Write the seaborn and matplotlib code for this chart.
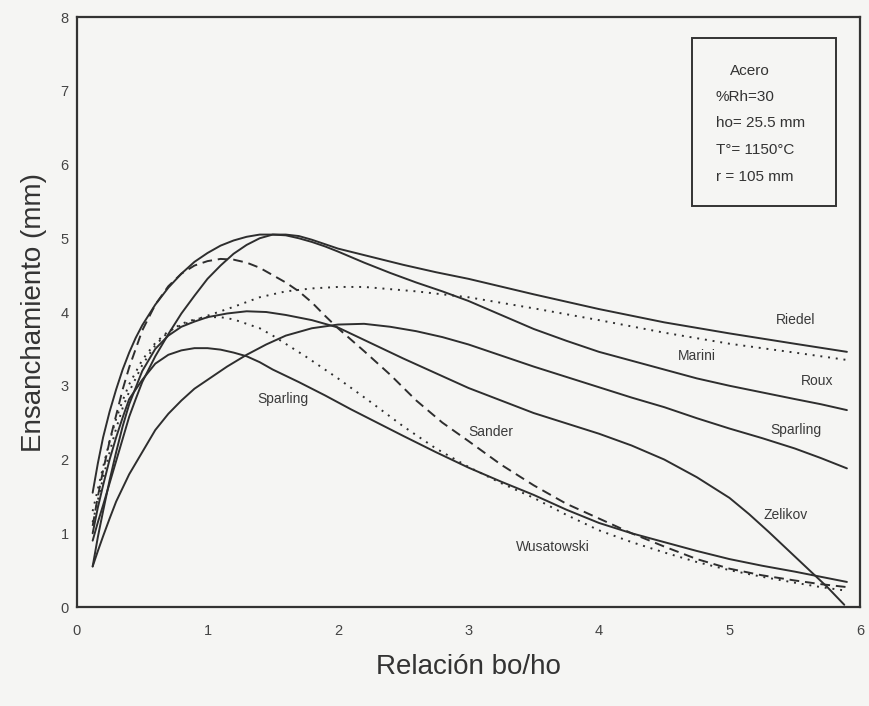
import matplotlib
matplotlib.use("Agg")
import matplotlib.pyplot as plt
import seaborn as sns
import pandas as pd
from matplotlib.patches import Rectangle
from matplotlib.ticker import MultipleLocator

sns.set_theme(style="white")
plt.rcParams['font.family'] = ['Liberation Sans', 'DejaVu Sans']

# ---- data ----
roux_x = [0.12, 0.16, 0.2, 0.25, 0.3, 0.35, 0.4, 0.45, 0.5, 0.6, 0.7, 0.8, 0.9, 1.0, 1.1, 1.2, 1.3, 1.4, 1.5,
          1.6, 1.7, 1.8, 1.9, 2.0, 2.2, 2.4, 2.6, 2.8, 3.0, 3.25, 3.5, 3.75, 4.0, 4.25, 4.5, 4.75, 5.0, 5.25,
          5.5, 5.7, 5.9]
roux_y = [1.55, 1.95, 2.3, 2.65, 2.95, 3.22, 3.45, 3.65, 3.82, 4.1, 4.33, 4.52, 4.68, 4.8, 4.9, 4.97, 5.02,
          5.05, 5.05, 5.04, 5.0, 4.95, 4.89, 4.82, 4.67, 4.53, 4.4, 4.28, 4.15, 3.96, 3.77, 3.61, 3.46, 3.34,
          3.22, 3.1, 3.0, 2.91, 2.82, 2.75, 2.67]

riedel_x = [0.12, 0.16, 0.2, 0.25, 0.3, 0.35, 0.4, 0.45, 0.5, 0.6, 0.7, 0.8, 0.9, 1.0, 1.1, 1.2, 1.3, 1.4, 1.5,
            1.6, 1.7, 1.8, 1.9, 2.0, 2.25, 2.5, 2.75, 3.0, 3.5, 4.0, 4.5, 5.0, 5.5, 5.9]
riedel_y = [0.9, 1.15, 1.38, 1.68, 1.98, 2.28, 2.58, 2.82, 3.05, 3.4, 3.7, 3.98, 4.22, 4.45, 4.63, 4.79, 4.91,
            5.0, 5.05, 5.05, 5.03, 4.98, 4.92, 4.86, 4.75, 4.64, 4.54, 4.45, 4.24, 4.04, 3.86, 3.71, 3.57, 3.46]

marini_x = [0.12, 0.16, 0.2, 0.25, 0.3, 0.35, 0.4, 0.5, 0.6, 0.7, 0.8, 0.9, 1.0, 1.2, 1.4, 1.6, 1.8, 2.0, 2.2,
            2.4, 2.6, 2.8, 3.0, 3.5, 4.0, 4.5, 5.0, 5.5, 5.9]
marini_y = [1.3, 1.6, 1.9, 2.25, 2.55, 2.8, 3.02, 3.35, 3.58, 3.74, 3.82, 3.89, 3.95, 4.07, 4.2, 4.28, 4.32,
            4.34, 4.34, 4.31, 4.28, 4.24, 4.2, 4.05, 3.89, 3.72, 3.57, 3.45, 3.35]

dotlow_x = [0.12, 0.16, 0.2, 0.25, 0.3, 0.35, 0.4, 0.5, 0.6, 0.7, 0.8, 0.9, 1.0, 1.1, 1.2, 1.3, 1.4, 1.5, 1.75,
            2.0, 2.25, 2.5, 2.75, 3.0, 3.25, 3.5, 3.75, 4.0, 4.25, 4.5, 4.75, 5.0, 5.25, 5.5, 5.7, 5.9]
dotlow_y = [1.15, 1.45, 1.75, 2.1, 2.42, 2.7, 2.92, 3.28, 3.55, 3.73, 3.84, 3.9, 3.93, 3.93, 3.9, 3.84, 3.78,
            3.68, 3.4, 3.1, 2.78, 2.45, 2.15, 1.9, 1.68, 1.48, 1.25, 1.04, 0.88, 0.74, 0.61, 0.5, 0.41, 0.33,
            0.27, 0.22]

sander_x = [0.12, 0.16, 0.2, 0.25, 0.3, 0.35, 0.4, 0.5, 0.6, 0.7, 0.8, 0.9, 1.0, 1.1, 1.2, 1.3, 1.4, 1.5, 1.6,
            1.7, 1.8, 1.9, 2.0, 2.2, 2.4, 2.6, 2.8, 3.0, 3.25, 3.5, 3.75, 4.0, 4.25, 4.5, 4.75, 5.0, 5.25, 5.5,
            5.7, 5.9]
sander_y = [1.1, 1.5, 1.85, 2.25, 2.6, 2.95, 3.25, 3.75, 4.1, 4.35, 4.52, 4.63, 4.69, 4.72, 4.71, 4.67, 4.6,
            4.5, 4.4, 4.28, 4.13, 3.95, 3.78, 3.47, 3.15, 2.8, 2.5, 2.25, 1.93, 1.65, 1.4, 1.2, 1.0, 0.82, 0.65,
            0.52, 0.43, 0.36, 0.31, 0.27]

zelikov_x = [0.12, 0.16, 0.2, 0.25, 0.3, 0.35, 0.4, 0.5, 0.6, 0.7, 0.8, 0.9, 1.0, 1.15, 1.3, 1.45, 1.6, 1.8,
             2.0, 2.25, 2.5, 2.75, 3.0, 3.25, 3.5, 3.75, 4.0, 4.25, 4.5, 4.75, 5.0, 5.15, 5.3, 5.45, 5.6, 5.75,
             5.88]
zelikov_y = [0.55, 0.95, 1.3, 1.72, 2.1, 2.45, 2.75, 3.2, 3.5, 3.68, 3.8, 3.87, 3.93, 3.98, 4.01, 4.0, 3.96,
             3.89, 3.79, 3.58, 3.37, 3.17, 2.97, 2.8, 2.63, 2.49, 2.35, 2.19, 2.0, 1.76, 1.48, 1.26, 1.02, 0.77,
             0.52, 0.27, 0.03]

wusa_x = [0.12, 0.16, 0.2, 0.25, 0.3, 0.35, 0.4, 0.5, 0.6, 0.7, 0.8, 0.9, 1.0, 1.1, 1.2, 1.3, 1.4, 1.5, 1.7,
          1.9, 2.1, 2.3, 2.5, 2.75, 3.0, 3.25, 3.5, 3.75, 4.0, 4.25, 4.5, 4.75, 5.0, 5.25, 5.5, 5.7, 5.9]
wusa_y = [1.0, 1.35, 1.65, 2.0, 2.3, 2.57, 2.82, 3.08, 3.3, 3.42, 3.48, 3.51, 3.51, 3.49, 3.45, 3.4, 3.32,
          3.22, 3.05, 2.87, 2.68, 2.5, 2.32, 2.1, 1.89, 1.7, 1.52, 1.32, 1.14, 1.0, 0.88, 0.76, 0.65, 0.56,
          0.48, 0.41, 0.34]

sparling_x = [0.12, 0.16, 0.2, 0.25, 0.3, 0.4, 0.5, 0.6, 0.7, 0.8, 0.9, 1.0, 1.15, 1.3, 1.45, 1.6, 1.8, 2.0,
              2.2, 2.4, 2.6, 2.8, 3.0, 3.25, 3.5, 3.75, 4.0, 4.25, 4.5, 4.75, 5.0, 5.25, 5.5, 5.7, 5.9]
sparling_y = [0.55, 0.76, 0.96, 1.2, 1.43, 1.8, 2.1, 2.4, 2.62, 2.8, 2.96, 3.08, 3.26, 3.42, 3.56, 3.68, 3.78,
              3.83, 3.84, 3.8, 3.74, 3.66, 3.56, 3.41, 3.26, 3.12, 2.98, 2.84, 2.71, 2.56, 2.42, 2.29, 2.15,
              2.02, 1.88]

curve_labels = ["Riedel", "Marini", "Roux", "Sparling", "Zelikov", "Sander", "Wusatowski", "Sparling"]
label_x = [5.51, 4.75, 5.67, 5.51, 5.43, 3.17, 3.645, 1.58]
label_y = [3.89, 3.41, 3.06, 2.40, 1.25, 2.37, 0.82, 2.82]

info_lines = ["Acero", "%Rh=30", "ho= 25.5 mm", "T°= 1150°C", "r = 105 mm"]

# ---- figure ----
bg = "#f5f5f3"
ink = "#2e2e2e"
fig = plt.figure(figsize=(8.69, 7.06), dpi=100, facecolor=bg)
ax = fig.add_axes([0.0886, 0.1402, 0.9010, 0.8357])
ax.set_facecolor(bg)

series = [
    (roux_x, roux_y, "-"),
    (riedel_x, riedel_y, "-"),
    (marini_x, marini_y, (0, (1, 3))),
    (dotlow_x, dotlow_y, (0, (1, 3))),
    (sander_x, sander_y, (0, (5, 3))),
    (zelikov_x, zelikov_y, "-"),
    (wusa_x, wusa_y, "-"),
    (sparling_x, sparling_y, "-"),
]
for xs, ys, ls in series:
    df = pd.DataFrame({"x": xs, "y": ys})
    sns.lineplot(data=df, x="x", y="y", ax=ax, color=ink, linewidth=1.4,
                 linestyle=ls, sort=False, estimator=None)

for t, lx, ly in zip(curve_labels, label_x, label_y):
    ax.text(lx, ly, t, fontsize=10, color="#3a3a3a", ha="center", va="center")

ax.set_xlim(0, 6)
ax.set_ylim(0, 8)
ax.xaxis.set_major_locator(MultipleLocator(1))
ax.xaxis.set_minor_locator(MultipleLocator(0.5))
ax.yaxis.set_major_locator(MultipleLocator(1))
ax.yaxis.set_minor_locator(MultipleLocator(0.5))
ax.tick_params(which="both", direction="in", top=False, right=False,
               colors="#444444", labelsize=10.5, width=1.2)
ax.tick_params(axis="x", which="major", pad=12)
ax.tick_params(axis="y", which="major", pad=6)
ax.tick_params(which="major", length=6)
ax.tick_params(which="minor", length=4)
for s in ax.spines.values():
    s.set_color("#333333")
    s.set_linewidth(1.6)

ax.set_xlabel("Relación bo/ho", fontsize=20, color="#333333", labelpad=12)
ax.set_ylabel("Ensanchamiento (mm)", fontsize=20, color="#333333", labelpad=10)

# info box
ax.add_patch(Rectangle((0.785, 0.68), 0.184, 0.284, transform=ax.transAxes,
                       fill=False, edgecolor="#333333", linewidth=1.4))
ys_box = [0.908, 0.864, 0.820, 0.775, 0.729]
for i, (t, yy) in enumerate(zip(info_lines, ys_box)):
    ax.text(0.834 if i == 0 else 0.816, yy, t, transform=ax.transAxes,
            fontsize=11, color="#333333", ha="left", va="center")

fig.savefig("out.png", dpi=100, facecolor=bg)
